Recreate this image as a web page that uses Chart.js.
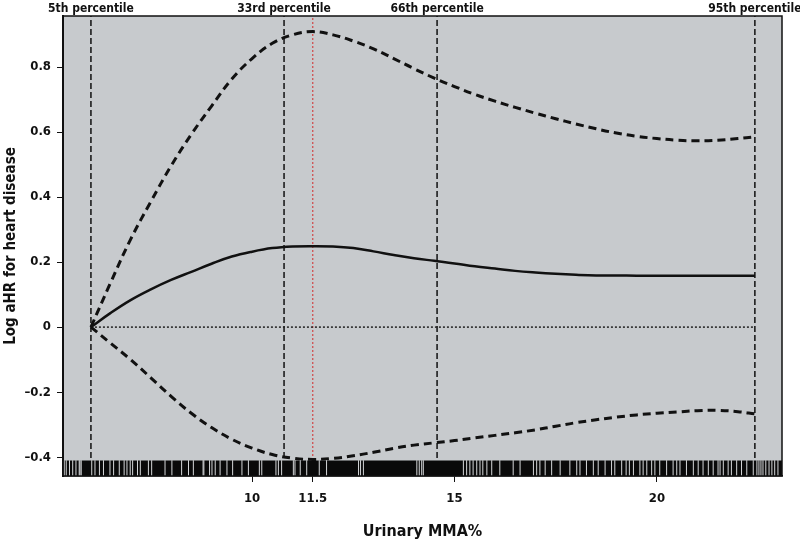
<!DOCTYPE html>
<html>
<head>
<meta charset="utf-8">
<script src="https://cdn.jsdelivr.net/npm/chart.js@4.4.1/dist/chart.umd.min.js"></script>
<style>
  body { margin: 0; background: #fff; }
  #wrap { width: 800px; height: 541px; }
</style>
</head>
<body>
<div id="wrap"><canvas id="splineChart"></canvas></div>
<script>
// Urinary MMA% grid where the spline curves were read
const xGrid = [6.02, 6.5, 7, 7.5, 8, 8.5, 9, 9.5, 10, 10.5, 11, 11.5, 12, 12.5, 13, 13.5, 14, 14.5,
               15, 15.5, 16, 16.5, 17, 17.5, 18, 18.5, 19, 19.5, 20, 20.5, 21, 21.5, 22, 22.42];
// log aHR (solid) and 95% CI (dashed)
const fitLogHR = [0, 0.043, 0.083, 0.116, 0.145, 0.170, 0.195, 0.217, 0.232, 0.243, 0.248, 0.249, 0.248, 0.243,
                  0.233, 0.222, 0.212, 0.204, 0.196, 0.187, 0.180, 0.173, 0.168, 0.164, 0.161, 0.159, 0.159,
                  0.158, 0.158, 0.158, 0.158, 0.158, 0.158, 0.158];
const upperCI = [0, 0.135, 0.27, 0.386, 0.496, 0.593, 0.68, 0.763, 0.826, 0.873, 0.899, 0.909, 0.899, 0.880,
                 0.856, 0.826, 0.795, 0.766, 0.740, 0.716, 0.695, 0.676, 0.658, 0.641, 0.625, 0.610, 0.597,
                 0.587, 0.580, 0.575, 0.573, 0.575, 0.580, 0.585];
const lowerCI = [0, -0.049, -0.100, -0.156, -0.213, -0.265, -0.309, -0.345, -0.372, -0.392, -0.403, -0.407, -0.404,
                 -0.396, -0.385, -0.373, -0.363, -0.356, -0.349, -0.341, -0.333, -0.325, -0.316, -0.305, -0.294,
                 -0.285, -0.277, -0.270, -0.265, -0.261, -0.257, -0.256, -0.260, -0.267];

const percentileValues = [6.02, 10.79, 14.57, 22.42];
const percentileLabels = ['5th percentile', '33rd percentile', '66th percentile', '95th percentile'];
const refValue = 11.5; // red dotted line

const xTickValues = [10, 11.5, 15, 20];
const yTickValues = [-0.4, -0.2, 0, 0.2, 0.4, 0.6, 0.8];

// places along the rug where there are no observations (light gaps in the black rug)
const rugGaps = [5.36, 5.41, 5.49, 5.57, 5.65, 5.73, 5.75, 5.78, 6.04, 6.12, 6.23, 6.33, 6.49, 6.58, 6.72, 6.84,
                 6.91, 6.99, 7.05, 7.17, 7.24, 7.44, 7.52, 7.85, 8.02, 8.26, 8.43, 8.55, 8.79, 8.81, 8.95, 9.01,
                 9.09, 9.21, 9.38, 9.52, 9.75, 9.91, 10.18, 10.24, 10.59, 10.65, 10.73, 11.02, 11.06, 11.19, 11.35,
                 11.66, 11.84, 12.63, 12.68, 12.75, 14.07, 14.13, 14.19, 14.23, 15.22, 15.30, 15.38, 15.46, 15.55,
                 15.63, 15.70, 15.80, 15.92, 16.12, 16.45, 16.62, 16.95, 17.03, 17.11, 17.24, 17.40, 17.61, 17.85,
                 18.02, 18.10, 18.26, 18.43, 18.55, 18.72, 18.88, 18.96, 19.13, 19.24, 19.32, 19.42, 19.58, 19.66,
                 19.75, 19.87, 19.95, 20.07, 20.24, 20.40, 20.49, 20.57, 20.73, 20.90, 21.02, 21.14, 21.27, 21.39,
                 21.51, 21.56, 21.64, 21.76, 21.84, 21.97, 22.09, 22.22, 22.38, 22.47, 22.52, 22.57, 22.62, 22.69,
                 22.77, 22.84, 22.91, 22.99];

const X_MIN = 5.33, X_MAX = 23.09;
const Y_MIN = -0.458, Y_MAX = 0.957;
const RUG_TOP = -0.41;

const FONT = '"Liberation Sans Narrow", "DejaVu Sans Condensed", "Arial Narrow", sans-serif';

function pairs(xs, ys) {
    return xs.map((x, i) => ({x: x, y: ys[i]}));
}

function fmtY(v) {
    if (v === 0) return '0';
    return v < 0 ? '\u2013' + Math.abs(v).toFixed(1) : v.toFixed(1);
}

// grey panel + black frame
const panelPlugin = {
    id: 'panel',
    beforeDraw(chart) {
        const a = chart.chartArea, ctx = chart.ctx;
        ctx.save();
        ctx.fillStyle = '#c7cacd';
        ctx.fillRect(a.left, a.top, a.right - a.left, a.bottom - a.top);
        ctx.restore();
    },
    afterDraw(chart) {
        const a = chart.chartArea, ctx = chart.ctx;
        ctx.save();
        ctx.strokeStyle = '#111';
        ctx.lineWidth = 1.5;
        ctx.strokeRect(a.left, a.top, a.right - a.left, a.bottom - a.top);
        ctx.restore();
    }
};

const datasets = [];

// rug gaps (on top)
datasets.push({
    type: 'scatter',
    data: rugGaps.map(x => ({x: x, y: (RUG_TOP + Y_MIN) / 2})),
    pointStyle: 'line',
    rotation: 90,
    pointRadius: 8,
    pointHoverRadius: 8,
    borderColor: '#d6d8da',
    borderWidth: 1,
    order: 0
});

// rug band
datasets.push({
    type: 'line',
    data: [{x: X_MIN, y: RUG_TOP}, {x: X_MAX, y: RUG_TOP}],
    borderWidth: 0,
    pointRadius: 0,
    fill: 'start',
    backgroundColor: '#0a0a0a',
    order: 1
});

// spline fit and CI
datasets.push({
    type: 'line',
    data: pairs(xGrid, fitLogHR),
    borderColor: '#111',
    borderWidth: 2.5,
    pointRadius: 0,
    tension: 0.4,
    order: 2
});
[upperCI, lowerCI].forEach(ci => {
    datasets.push({
        type: 'line',
        data: pairs(xGrid, ci),
        borderColor: '#111',
        borderWidth: 3,
        borderDash: [8, 5],
        pointRadius: 0,
        tension: 0.4,
        order: 2
    });
});

// zero line between 5th and 95th percentile
datasets.push({
    type: 'line',
    data: [{x: percentileValues[0], y: 0}, {x: percentileValues[percentileValues.length - 1], y: 0}],
    borderColor: '#222',
    borderWidth: 1.5,
    borderDash: [2, 2],
    pointRadius: 0,
    order: 3
});

// percentile lines
percentileValues.forEach(p => {
    datasets.push({
        type: 'line',
        data: [{x: p, y: Y_MIN}, {x: p, y: Y_MAX}],
        borderColor: '#111',
        borderWidth: 1.5,
        borderDash: [6, 3],
        pointRadius: 0,
        order: 3
    });
});

// reference line
datasets.push({
    type: 'line',
    data: [{x: refValue, y: Y_MIN}, {x: refValue, y: Y_MAX}],
    borderColor: '#d22c2c',
    borderWidth: 1,
    borderDash: [2, 2],
    pointRadius: 0,
    order: 3
});

new Chart(document.getElementById('splineChart'), {
    type: 'line',
    data: { datasets: datasets },
    plugins: [panelPlugin],
    options: {
        responsive: true,
        maintainAspectRatio: false,
        animation: false,
        layout: { padding: { top: 0, right: 18, bottom: 0, left: 0 } },
        plugins: { legend: { display: false }, tooltip: { enabled: false } },
        scales: {
            x: {
                type: 'linear',
                position: 'bottom',
                min: X_MIN,
                max: X_MAX,
                afterBuildTicks: s => { s.ticks = xTickValues.map(v => ({value: v})); },
                afterFit: s => { s.height = 65; s.paddingLeft = 0; s.paddingRight = 0; },
                grid: { drawOnChartArea: false, drawTicks: true, tickLength: 6, color: '#111', lineWidth: 1 },
                border: { display: true, color: '#111', width: 1.5 },
                ticks: {
                    color: '#111',
                    font: { family: FONT, size: 13, weight: 'bold' },
                    padding: 9,
                    maxRotation: 0,
                    autoSkip: false,
                    callback: v => String(v)
                },
                title: {
                    display: true,
                    text: 'Urinary MMA%',
                    color: '#111',
                    font: { family: FONT, size: 16, weight: 'bold' },
                    padding: { top: 0, bottom: 0 }
                }
            },
            xTop: {
                type: 'linear',
                position: 'top',
                min: X_MIN,
                max: X_MAX,
                afterBuildTicks: s => { s.ticks = percentileValues.map(v => ({value: v})); },
                afterFit: s => { s.height = 16; s.paddingLeft = 0; s.paddingRight = 0; },
                grid: { display: false, drawTicks: false },
                border: { display: false },
                ticks: {
                    color: '#111',
                    font: { family: FONT, size: 12, weight: 'bold' },
                    padding: 0,
                    maxRotation: 0,
                    autoSkip: false,
                    callback: (v, i) => percentileLabels[i]
                }
            },
            y: {
                type: 'linear',
                min: Y_MIN,
                max: Y_MAX,
                afterBuildTicks: s => { s.ticks = yTickValues.map(v => ({value: v})); },
                afterFit: s => { s.width = 63; },
                grid: { drawOnChartArea: false, drawTicks: true, tickLength: 6, color: '#111', lineWidth: 1 },
                border: { display: true, color: '#111', width: 2 },
                ticks: {
                    color: '#111',
                    font: { family: FONT, size: 13, weight: 'bold' },
                    padding: 6,
                    callback: v => fmtY(v)
                },
                title: {
                    display: true,
                    text: 'Log aHR for heart disease',
                    color: '#111',
                    font: { family: FONT, size: 15, weight: 'bold' },
                    padding: { top: 2, bottom: 0 }
                }
            }
        }
    }
});
</script>
</body>
</html>
